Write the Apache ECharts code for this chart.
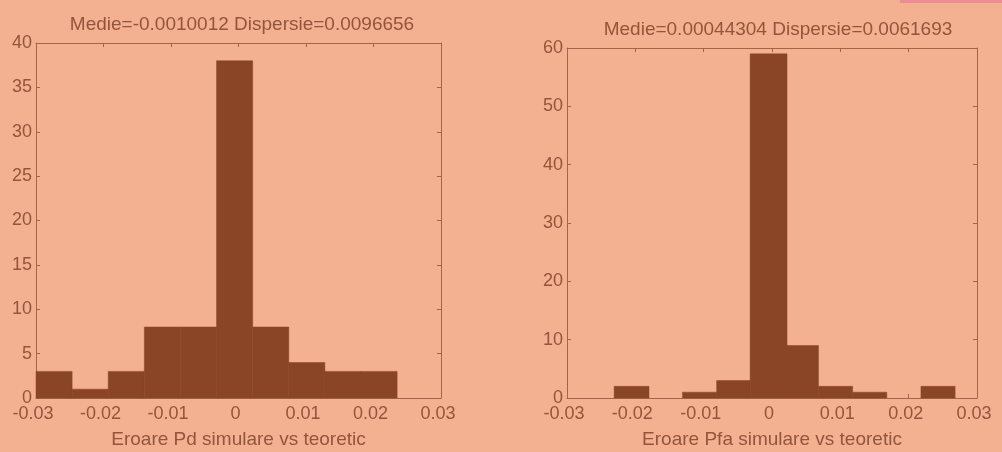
<!DOCTYPE html>
<html>
<head>
<meta charset="utf-8">
<script src="https://cdn.jsdelivr.net/npm/echarts@6/dist/echarts.min.js"></script>
<style>
html,body{margin:0;padding:0;background:#F4B191;}
#chart{width:1002px;height:452px;}
</style>
</head>
<body>
<div id="chart"></div>
<script>
// ---- data ----
var pdTitle = 'Medie=-0.0010012 Dispersie=0.0096656';
var pfaTitle = 'Medie=0.00044304 Dispersie=0.0061693';
var pdXLabel = 'Eroare Pd simulare vs teoretic';
var pfaXLabel = 'Eroare Pfa simulare vs teoretic';
var pdEdges = [-0.03, -0.02465, -0.0193, -0.01395, -0.0086, -0.00325, 0.0021, 0.00745, 0.0128, 0.01815, 0.0235];
var pdCounts = [3, 1, 3, 8, 8, 38, 8, 4, 3, 3];
var pfaEdges = [-0.0231, -0.0180, -0.0131, -0.0081, -0.0032, 0.0022, 0.0068, 0.0118, 0.0168, 0.0218, 0.0268];
var pfaCounts = [2, 0, 1, 3, 59, 9, 2, 1, 0, 2];

var BG = '#F4B191', BAR = '#8A4526', TXT = '#93553B', LINE = '#A2644A';
var FONT = 'Liberation Sans, Arial, sans-serif';
var FS = 18;

function toData(edges, counts) {
  var d = [];
  for (var i = 0; i < counts.length; i++) d.push([edges[i], edges[i + 1], counts[i]]);
  return d;
}
function renderBar(params, api) {
  if (api.value(2) <= 0) return null;
  var p0 = api.coord([api.value(0), 0]);
  var p1 = api.coord([api.value(1), api.value(2)]);
  return {
    type: 'rect',
    shape: { x: p0[0], y: p1[1], width: p1[0] - p0[0], height: p0[1] - p1[1] },
    style: { fill: BAR, stroke: BAR, lineWidth: 0.5 }
  };
}
function fmt(v) {
  if (v === 0) return '0';
  return (v < 0 ? '-' : '') + Math.abs(v).toFixed(2);
}
function xAxisPair(gi, name) {
  return [{
    type: 'value', gridIndex: gi, min: -0.03, max: 0.03, interval: 0.01, position: 'bottom',
    name: name, nameLocation: 'middle', nameGap: 32,
    nameTextStyle: { color: TXT, fontFamily: FONT, fontSize: 19 },
    axisLine: { show: true, onZero: false, lineStyle: { color: LINE, width: 1 } },
    axisTick: { show: true, inside: true, length: 4, lineStyle: { color: LINE } },
    axisLabel: { color: TXT, fontFamily: FONT, fontSize: FS, margin: 7, formatter: fmt,
      padding: [0, 6, 0, 0] },
    splitLine: { show: false }
  }, {
    type: 'value', gridIndex: gi, min: -0.03, max: 0.03, interval: 0.01, position: 'top',
    axisLine: { show: true, onZero: false, lineStyle: { color: LINE, width: 1 } },
    axisTick: { show: true, inside: true, length: 4, lineStyle: { color: LINE } },
    axisLabel: { show: false }, splitLine: { show: false }
  }];
}
function yAxisPair(gi, max, interval) {
  return [{
    type: 'value', gridIndex: gi, min: 0, max: max, interval: interval, position: 'left',
    axisLine: { show: true, onZero: false, lineStyle: { color: LINE, width: 1 } },
    axisTick: { show: true, inside: true, length: 4, lineStyle: { color: LINE } },
    axisLabel: { color: TXT, fontFamily: FONT, fontSize: FS, margin: 4, padding: [0, 0, 3, 0] },
    splitLine: { show: false }
  }, {
    type: 'value', gridIndex: gi, min: 0, max: max, interval: interval, position: 'right',
    axisLine: { show: true, onZero: false, lineStyle: { color: LINE, width: 1 } },
    axisTick: { show: true, inside: true, length: 4, lineStyle: { color: LINE } },
    axisLabel: { show: false }, splitLine: { show: false }
  }];
}

var chart = echarts.init(document.getElementById('chart'), null, { renderer: 'canvas' });
chart.setOption({
  backgroundColor: BG,
  animation: false,
  title: [
    { text: pdTitle, left: 237, top: 10, textAlign: 'center',
      textStyle: { color: TXT, fontFamily: FONT, fontSize: 19, fontWeight: 'normal' } },
    { text: pfaTitle, left: 773, top: 15, textAlign: 'center',
      textStyle: { color: TXT, fontFamily: FONT, fontSize: 19, fontWeight: 'normal' } }
  ],
  grid: [
    { left: 36, top: 43, width: 405, height: 355, outerBoundsMode: 'none', containLabel: false },
    { left: 567, top: 48, width: 410, height: 350, outerBoundsMode: 'none', containLabel: false }
  ],
  xAxis: xAxisPair(0, pdXLabel).concat(xAxisPair(1, pfaXLabel)),
  yAxis: yAxisPair(0, 40, 5).concat(yAxisPair(1, 60, 10)),
  series: [
    { type: 'custom', xAxisIndex: 0, yAxisIndex: 0, renderItem: renderBar,
      encode: { x: [0, 1], y: 2 }, data: toData(pdEdges, pdCounts) },
    { type: 'custom', xAxisIndex: 2, yAxisIndex: 2, renderItem: renderBar,
      encode: { x: [0, 1], y: 2 }, data: toData(pfaEdges, pfaCounts) }
  ],
  graphic: [
    { type: 'rect', shape: { x: 900, y: 0, width: 102, height: 3 }, style: { fill: '#EE8C95' } }
  ]
});
</script>
</body>
</html>
